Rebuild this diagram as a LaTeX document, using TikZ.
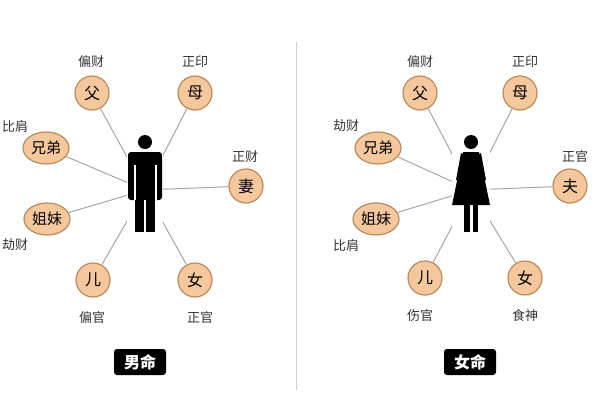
\documentclass[tikz,border=0pt]{standalone}
\usetikzlibrary{shapes.geometric}
\usepackage{fontspec}
\setmainfont{Noto Sans CJK SC}
\definecolor{relfill}{HTML}{F4C89C}
\definecolor{reldraw}{HTML}{B98A5A}
\begin{document}
\begin{tikzpicture}[x=1pt,y=-1pt,
  rel/.style={circle,draw=reldraw,line width=1.2pt,fill=relfill,minimum size=34pt,inner sep=0pt,font=\fontsize{16}{16}\selectfont},
  rele/.style={ellipse,draw=reldraw,line width=1.2pt,fill=relfill,minimum width=46pt,minimum height=32pt,inner sep=0pt,font=\fontsize{15}{15}\selectfont},
  lab/.style={font=\fontsize{13}{13}\selectfont,text=black!80},
  conn/.style={draw=black!35,line width=1pt},
  tag/.style={fill=black,text=white,rounded corners=3pt,font=\bfseries\fontsize{16}{16}\selectfont,minimum width=52pt,minimum height=26pt,inner sep=2pt}]
\useasboundingbox (0,0) rectangle (600,400);
\fill[white] (0,0) rectangle (600,400);
\draw[black!20,line width=1pt] (296,42) -- (296,390);
% ---- left ----
\coordinate (hL) at (145,190);
\node[rel] (fL) at (92,93) {父};
\node[rel] (mL) at (195,93) {母};
\node[rele] (xL) at (46,148) {兄弟};
\node[rel] (wL) at (246,186) {妻};
\node[rele] (jL) at (47,219) {姐妹};
\node[rel] (sL) at (93,280) {儿};
\node[rel] (dL) at (195,280) {女};
\foreach \n in {fL,mL,xL,wL,jL,sL,dL} \path[conn] (\n) -- (hL);
\begin{scope}
\fill[white] (127,148) rectangle (163,235);
\fill[black] (145,142) circle (7);
\fill[black,rounded corners=3pt] (128,152) rectangle (162,200);
\fill[black] (135,195) rectangle (155,232);
\fill[white] (144.3,200) rectangle (145.7,233);
\fill[white] (133.5,165) rectangle (135.5,200);
\fill[white] (154.5,165) rectangle (156.5,200);
\end{scope}
\node[lab] (l1) at (91,62) {偏财};
\node[lab] (l2) at (195,62) {正印};
\node[lab] (l3) at (15,126) {比肩};
\node[lab] (l4) at (245,157) {正财};
\node[lab] (l5) at (15,245) {劫财};
\node[lab] (l6) at (92,318) {偏官};
\node[lab] (l7) at (200,318) {正官};
\node[tag] (tL) at (140,362) {男命};
% ---- right ----
\coordinate (hR) at (471,190);
\node[rel] (fR) at (420,93) {父};
\node[rel] (mR) at (520,93) {母};
\node[rele] (xR) at (378,148) {兄弟};
\node[rel] (wR) at (570,186) {夫};
\node[rele] (jR) at (376,219) {姐妹};
\node[rel] (sR) at (425,278) {儿};
\node[rel] (dR) at (525,278) {女};
\foreach \n in {fR,mR,xR,wR,jR,sR,dR} \path[conn] (\n) -- (hR);
\begin{scope}
\fill[white] (452,148) rectangle (490,235);
\fill[black] (471,142) circle (7);
\fill[black] (463,152) -- (479,152) -- (490,205) -- (452,205) -- cycle;
\fill[black] (464,200) rectangle (469.5,232);
\fill[black] (472.5,200) rectangle (478,232);
\fill[black] (461,153) -- (456,180) -- (459,181) -- (465,156) -- cycle;
\fill[black] (481,153) -- (486,180) -- (483,181) -- (477,156) -- cycle;
\end{scope}
\node[lab] (r1) at (420,62) {偏财};
\node[lab] (r2) at (525,62) {正印};
\node[lab] (r3) at (346,126) {劫财};
\node[lab] (r4) at (575,157) {正官};
\node[lab] (r5) at (346,245) {比肩};
\node[lab] (r6) at (420,316) {伤官};
\node[lab] (r7) at (525,316) {食神};
\node[tag] (tR) at (470,362) {女命};
\end{tikzpicture}
\end{document}
